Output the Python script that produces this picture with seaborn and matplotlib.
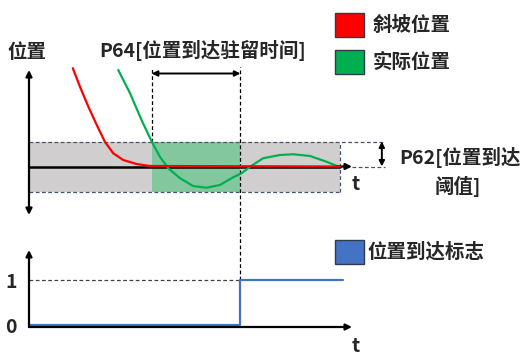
import matplotlib
matplotlib.use("Agg")
import matplotlib.pyplot as plt
from matplotlib.patches import Patch
import seaborn as sns
import pandas as pd

# =========================
# Data
# =========================
ramp_t = [1.41, 1.64, 1.91, 2.18, 2.44, 2.71, 3.03, 3.46, 3.89, 10.0]
ramp_pos = [3.93, 3.19, 2.39, 1.66, 0.99, 0.53, 0.26, 0.10, 0.02, 0.0]

actual_t = [2.87, 3.25, 3.62, 3.95, 4.21, 4.48, 4.86, 5.28, 5.71, 6.14,
            6.57, 6.84, 7.11, 7.53, 8.07, 8.50, 9.04, 9.57, 9.95]
actual_pos = [3.86, 2.93, 1.86, 0.99, 0.39, -0.07, -0.47, -0.78, -0.85, -0.74,
              -0.43, -0.27, -0.01, 0.33, 0.46, 0.49, 0.42, 0.19, 0.0]

flag_t = [0.0, 6.8, 10.1]
flag_val = [0, 1, 1]

window = 1.0          # P62 threshold (+/-)
box_end = 10.0
dwell_start, dwell_end = 3.95, 6.8

labels = ["斜坡位置", "实际位置", "位置到达标志"]
colors = {"斜坡位置": "#ff0000", "实际位置": "#00b050", "位置到达标志": "#4472c4"}

# =========================
# Style
# =========================
sns.set_theme(style="white")
plt.rcParams["font.family"] = ["Noto Sans CJK SC", "DejaVu Sans"]
plt.rcParams["font.weight"] = "bold"
FS = 14

fig = plt.figure(figsize=(5.2, 3.58), dpi=100)

W, H = 520.0, 358.0
def box(x0, y0, x1, y1):
    return [x0 / W, 1 - y1 / H, (x1 - x0) / W, (y1 - y0) / H]

# =========================
# Top panel: position
# =========================
ax = fig.add_axes(box(29, 70, 352, 215))
ax.set_xlim(0, 10.39)
ax.set_ylim(-1.94, 3.86)
ax.axis("off")

ax.fill_between([0, box_end], -window, window, color="#d0cece", lw=0, zorder=0)
ax.fill_between([dwell_start, dwell_end], -window, window, color="#83c79e", lw=0, zorder=1)
dash = dict(color="#44546a", lw=0.9, ls=(0, (3, 2)), clip_on=False)
ax.plot([0, 11.45], [window, window], **dash)
ax.plot([0, box_end], [-window, -window], **dash)
ax.plot([box_end, box_end], [-window, window], **dash)
ax.plot([10.39, 11.45], [0, 0], **dash)
dash_k = dict(color="black", lw=0.9, ls=(0, (3, 2)), clip_on=False)
ax.plot([dwell_start, dwell_start], [window, 4.0], **dash_k)
ax.plot([dwell_end, dwell_end], [-4.54, 4.0], **dash_k)

ramp_df = pd.DataFrame({"t": ramp_t, "pos": ramp_pos})
actual_df = pd.DataFrame({"t": actual_t, "pos": actual_pos})
sns.lineplot(data=actual_df, x="t", y="pos", ax=ax, color=colors["实际位置"], lw=1.6,
             sort=False, zorder=3, clip_on=False)
ax.plot([0, box_end], [0, 0], color="black", lw=1.8, zorder=2)
sns.lineplot(data=ramp_df, x="t", y="pos", ax=ax, color=colors["斜坡位置"], lw=1.6,
             sort=False, zorder=4, clip_on=False)

# axes arrows
arr = dict(arrowstyle="-|>", color="black", lw=1.6, mutation_scale=9, shrinkA=0, shrinkB=0)
ax.annotate("", xy=(0, 3.86), xytext=(0, 0), arrowprops=arr, annotation_clip=False)
ax.annotate("", xy=(0, -1.94), xytext=(0, 0), arrowprops=arr, annotation_clip=False)
ax.annotate("", xy=(10.39, 0), xytext=(9.9, 0), arrowprops=arr, annotation_clip=False)
dbl = dict(arrowstyle="<|-|>", color="black", lw=1.4, mutation_scale=8, shrinkA=0, shrinkB=0)
ax.annotate("", xy=(dwell_start, 3.72), xytext=(dwell_end, 3.72), arrowprops=dbl,
            annotation_clip=False)
ax.annotate("", xy=(11.35, 0), xytext=(11.35, window), arrowprops=dbl, annotation_clip=False)
ax.set_xlabel("")
ax.set_ylabel("")

# =========================
# Bottom panel: arrival flag
# =========================
bx = fig.add_axes(box(29, 250, 352, 327))
bx.patch.set_visible(False)
bx.set_xlim(0, 10.39)
bx.set_ylim(-0.044, 1.667)
for s in ["top", "right", "left", "bottom"]:
    bx.spines[s].set_visible(False)
bx.set_xticks([])
bx.set_yticks([0, 1])
bx.set_yticklabels(["0", "1"], fontsize=FS, fontweight="bold")
bx.tick_params(axis="y", length=0, pad=9)
bx.plot([0, dwell_end], [1, 1], color="#404040", lw=0.9, ls=(0, (3, 2)))
flag_df = pd.DataFrame({"t": flag_t, "flag": flag_val})
sns.lineplot(data=flag_df, x="t", y="flag", ax=bx, color=colors["位置到达标志"], lw=1.6,
             drawstyle="steps-post", clip_on=False)
bx.set_xlabel("")
bx.set_ylabel("")
bx.annotate("", xy=(0, 1.667), xytext=(0, -0.044), arrowprops=arr, annotation_clip=False)
bx.annotate("", xy=(10.39, -0.044), xytext=(0, -0.044), arrowprops=arr, annotation_clip=False)

# =========================
# Texts
# =========================
fig.text(27 / W, 1 - 52 / H, "位置", ha="center", va="center", fontsize=FS, fontweight="bold")
fig.text(203 / W, 1 - 50 / H, "P64[位置到达驻留时间]", ha="center", va="center",
         fontsize=FS, fontweight="bold")
fig.text(399 / W, 1 - 157 / H, "P62[位置到达", ha="left", va="center",
         fontsize=FS, fontweight="bold")
fig.text(458 / W, 1 - 186 / H, "阈值]", ha="center", va="center", fontsize=FS, fontweight="bold")
fig.text(356 / W, 1 - 184 / H, "t", ha="center", va="center", fontsize=FS, fontweight="bold")
fig.text(356 / W, 1 - 346 / H, "t", ha="center", va="center", fontsize=FS, fontweight="bold")

# =========================
# Legends
# =========================
edge = "#2f3b52"
top_handles = [Patch(facecolor=colors[l], edgecolor=edge, lw=1) for l in labels[:2]]
fig.legend(top_handles, labels[:2], loc="upper left", bbox_to_anchor=(327 / W, 1 - 5 / H),
           frameon=False, handlelength=1.5, handleheight=1.5, handletextpad=0.45,
           labelspacing=0.7, prop={"size": FS, "weight": "bold"}, borderaxespad=0)
bot_handles = [Patch(facecolor=colors[labels[2]], edgecolor=edge, lw=1)]
fig.legend(bot_handles, labels[2:], loc="upper left", bbox_to_anchor=(327 / W, 1 - 232 / H),
           frameon=False, handlelength=1.5, handleheight=1.5, handletextpad=0.2,
           prop={"size": FS, "weight": "bold"}, borderaxespad=0)

plt.savefig("out.png", dpi=100)
